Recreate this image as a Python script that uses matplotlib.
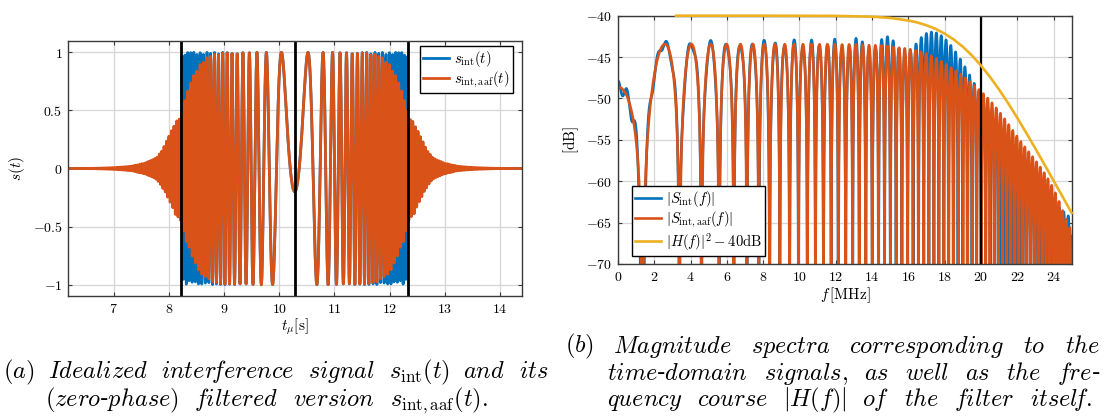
import numpy as np
import matplotlib
matplotlib.use("Agg")
import matplotlib.pyplot as plt

# ---------------- values ----------------
# time axis in microseconds
T_RANGE = [6.17, 14.40]            # span of the sampled signal
WINDOW_T = [8.22, 12.335]          # start / end of the interference burst
CENTER_T = 10.28                   # chirp turning point
MARKER_T = [8.22, 10.28, 12.335]   # black vertical lines (time plot)
F_EDGE_MHZ = 20.0                  # instantaneous frequency at the burst edges
CENTER_VALUE = -0.2                # s(t) at the turning point (local minimum)
SAMPLE_RATE_MHZ = 200.0

# envelope of the filtered signal outside the burst (distance to edge [us], amplitude)
TAIL_DT = [0.0, 0.10, 0.20, 0.32, 0.43, 0.64, 0.90, 1.20, 1.60, 2.10]
TAIL_AMP = [0.47, 0.40, 0.30, 0.18, 0.10, 0.05, 0.02, 0.008, 0.002, 0.0]

# filter curve |H(f)|^2 - 40 dB  (f in MHz, dB)
H_F = [3.2, 8, 12, 14, 15, 16, 16.5, 17, 17.5, 18, 18.5, 19, 19.5, 20,
       20.5, 21, 21.5, 22, 22.5, 23, 23.5, 24, 24.5, 25]
H_DB = [-40.0, -40.0, -40.02, -40.12, -40.27, -40.58, -40.82, -41.16, -41.59,
        -42.16, -42.88, -43.75, -44.80, -46.02, -47.40, -48.93, -50.58, -52.34,
        -54.17, -56.06, -57.98, -59.93, -61.88, -63.84]
H_OFFSET_DB = -40.0
SPEC_OFFSET_DB = -33.55            # level of the spectra
F_MARKER = 20.0                    # black vertical line (spectrum)

# ticks
T_TICKS = [7, 8, 9, 10, 11, 12, 13, 14]
S_TICKS = [-1, -0.5, 0, 0.5, 1]
F_TICKS = [0, 2, 4, 6, 8, 10, 12, 14, 16, 18, 20, 22, 24]
DB_TICKS = [-70, -65, -60, -55, -50, -45, -40]

C_BLUE = "#0072BD"
C_ORANGE = "#D95319"
C_YELLOW = "#EDB120"

# ---------------- signals ----------------
dt = 1.0 / SAMPLE_RATE_MHZ
t = np.arange(T_RANGE[0], T_RANGE[1] + dt / 2, dt)
half = (WINDOW_T[1] - WINDOW_T[0]) / 2
k = F_EDGE_MHZ / half
phi0 = -np.arccos(CENTER_VALUE)
x = t - CENTER_T
carrier = np.cos(np.pi * k * x ** 2 + phi0)
inside = (t >= WINDOW_T[0]) & (t <= WINDOW_T[1])
s_int = np.where(inside, carrier, 0.0)

f_inst = k * np.abs(x)
env_in = 10 ** ((np.interp(f_inst, H_F, H_DB) - H_OFFSET_DB) / 20)
dist = np.maximum(WINDOW_T[0] - t, t - WINDOW_T[1])
env_out = np.interp(dist, TAIL_DT, TAIL_AMP)
s_aaf = carrier * np.where(inside, env_in, env_out)

NFFT = 2 ** 17
freq = np.fft.rfftfreq(NFFT, dt)
S_int = dt * np.abs(np.fft.rfft(s_int, NFFT))
S_aaf = dt * np.abs(np.fft.rfft(s_aaf, NFFT))
sel = freq <= 25.0
S_int_db = 20 * np.log10(S_int[sel] + 1e-12) + SPEC_OFFSET_DB
S_aaf_db = 20 * np.log10(S_aaf[sel] + 1e-12) + SPEC_OFFSET_DB
freq = freq[sel]

# ---------------- figure ----------------
plt.rcParams["mathtext.fontset"] = "cm"
plt.rcParams["font.family"] = "DejaVu Serif"

W, H = 1112, 419
fig = plt.figure(figsize=(W / 100, H / 100), dpi=100)
ax1 = fig.add_axes([68 / W, 1 - 296 / H, 454 / W, 255 / H])
ax2 = fig.add_axes([618 / W, 1 - 264 / H, 453.7 / W, 248.3 / H])

TICK_FS = 10


def style(ax):
    ax.set_axisbelow(True)
    ax.grid(True, color="#d6d6d6", lw=0.9)
    for sp in ax.spines.values():
        sp.set_color("#3a3a3a")
        sp.set_linewidth(1.0)
    ax.tick_params(direction="in", length=3, width=0.8, color="#3a3a3a",
                   labelsize=TICK_FS, pad=4, top=True, right=True)


LEG_KW = dict(borderaxespad=0, fontsize=10.5, frameon=True, fancybox=False,
              framealpha=1, edgecolor="black", handlelength=1.8,
              handletextpad=0.35, labelspacing=0.05, borderpad=0.22)

# time-domain plot
ax1.plot(t, s_int, color=C_BLUE, lw=2.0, label=r"$s_{\mathrm{int}}(t)$")
ax1.plot(t, s_aaf, color=C_ORANGE, lw=2.0, label=r"$s_{\mathrm{int,aaf}}(t)$")
for mt in MARKER_T:
    ax1.axvline(mt, color="black", lw=2.0)
ax1.set_xlim(T_RANGE)
ax1.set_ylim(-1.0975, 1.0975)
ax1.set_xticks(T_TICKS, labels=[f"${v:g}$" for v in T_TICKS])
ax1.set_yticks(S_TICKS, labels=[f"${v:g}$" for v in S_TICKS])
style(ax1)
ax1.set_xlabel(r"$t_{\mu}[\mathrm{s}]$", fontsize=11, labelpad=1)
ax1.set_ylabel(r"$s(t)$", fontsize=11, labelpad=4)
leg1 = ax1.legend(loc="upper right", bbox_to_anchor=(0.980, 0.980), **LEG_KW)
leg1.get_frame().set_linewidth(1.0)

# spectrum plot
ax2.plot(freq, S_int_db, color=C_BLUE, lw=1.9, label=r"$|S_{\mathrm{int}}(f)|$")
ax2.plot(freq, S_aaf_db, color=C_ORANGE, lw=1.9, label=r"$|S_{\mathrm{int,aaf}}(f)|$")
ax2.plot(H_F, H_DB, color=C_YELLOW, lw=1.9, label=r"$|H(f)|^2-40\mathrm{dB}$",
         zorder=3, clip_on=False)
ax2.axvline(F_MARKER, color="black", lw=1.6)
ax2.set_xlim(0, 25)
ax2.set_ylim(-70, -40)
ax2.set_xticks(F_TICKS, labels=[f"${v:g}$" for v in F_TICKS])
ax2.set_yticks(DB_TICKS, labels=[f"${v:g}$" for v in DB_TICKS])
style(ax2)
ax2.set_xlabel(r"$f\,[\mathrm{MHz}]$", fontsize=11, labelpad=1)
ax2.set_ylabel(r"$[\mathrm{dB}]$", fontsize=11, labelpad=4)
leg2 = ax2.legend(loc="lower left", bbox_to_anchor=(0.030, 0.032), **LEG_KW)
leg2.get_frame().set_linewidth(1.0)

# ---------------- captions (justified, hanging indent) ----------------
CAP_FS = 17.5


def it(w):
    return r"$\mathit{" + w + "}$"


CAPTION_A = [
    [r"$(\mathit{a})$", it("Idealized"), r"$\mathit{inter}\!\mathit{ference}$",
     it("signal"), r"$s_{\mathrm{int}}(t)$", it("and"), it("its")],
    [r"$(\mathit{zero}$-$\mathit{phase})$", it("filtered"), it("version"),
     r"$s_{\mathrm{int,aaf}}(t).$"],
]
CAPTION_B = [
    [r"$(\mathit{b})$", it("Magnitude"), it("spectra"), it("corresponding"),
     it("to"), it("the")],
    [it("time") + "-" + it("domain"), it("signals,"), it("as"), it("well"),
     it("as"), it("the"), it("fre") + "-"],
    [it("quency"), it("course"), r"$|H(f)|$", it("of"), it("the"),
     it("filter"), r"$\mathit{itsel}\!\mathit{f.}$"],
]

renderer = fig.canvas.get_renderer()


def layout(lines, x_first, x_hang, x_right, baselines):
    for i, (toks, yb) in enumerate(zip(lines, baselines)):
        x0 = x_first if i == 0 else x_hang
        ts = [fig.text(0, 1 - yb / H, tok, fontsize=CAP_FS, va="baseline", ha="left")
              for tok in toks]
        ws = [tt.get_window_extent(renderer).width for tt in ts]
        if i < len(lines) - 1:
            gap = (x_right - x0 - sum(ws)) / (len(ts) - 1)
        else:
            gap = CAP_FS * 100 / 72 * 0.62
        xx = x0
        for tt, w in zip(ts, ws):
            tt.set_x(xx / W)
            xx += w + gap


layout(CAPTION_A, 3, 45, 548, [378, 406])
layout(CAPTION_B, 565, 607, 1100, [352.5, 379.5, 406])

fig.savefig("out.png", dpi=100)
